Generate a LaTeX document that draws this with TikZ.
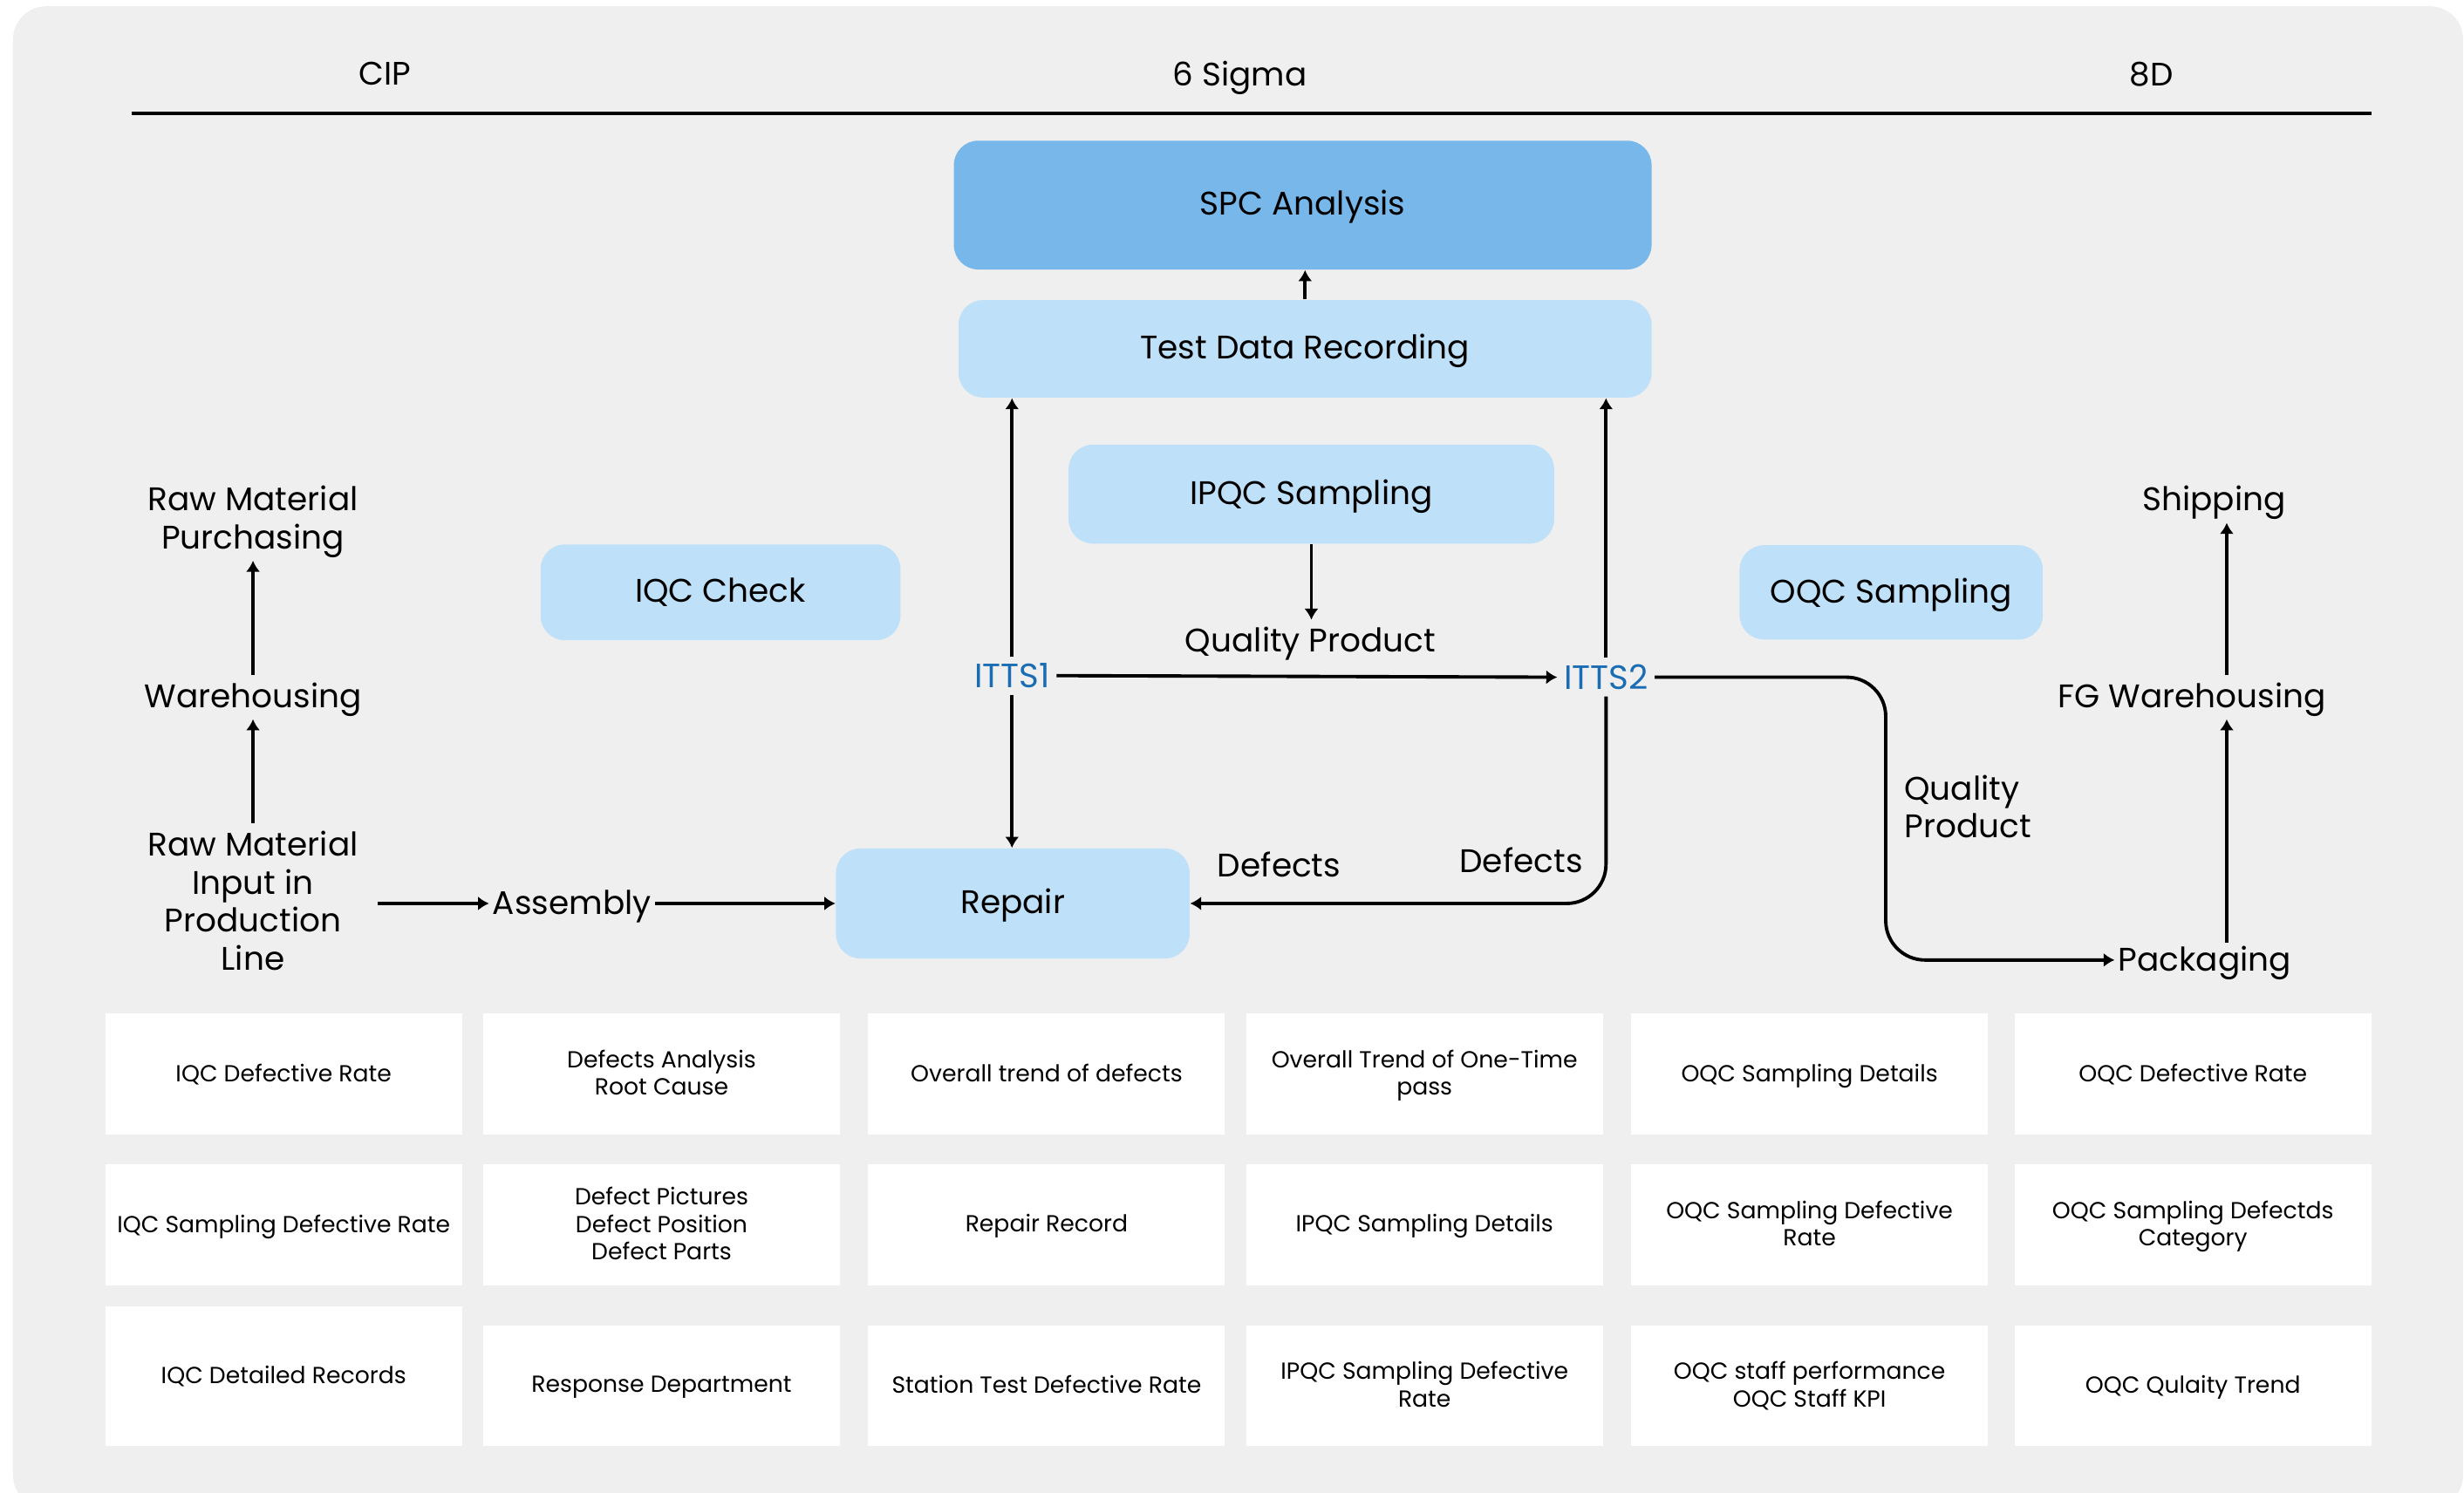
\documentclass[tikz,border=0pt]{standalone}
\usepackage{fontspec}
\setmainfont{Poppins}
\usetikzlibrary{arrows.meta,positioning}

\definecolor{panelgray}{HTML}{EFEFEF}
\definecolor{spcblue}{HTML}{78B7E9}
\definecolor{paleblue}{HTML}{BEE0F8}
\definecolor{ittsblue}{HTML}{1A6DB3}

\tikzset{
  px/.style 2 args={minimum width={#1*0.018cm}, minimum height={#2*0.018cm}},
  procbox/.style={fill=paleblue, draw=none, rounded corners=0.28cm, inner sep=0pt,
    text depth=1.4pt, font=\fontsize{10.65}{12.4}\selectfont},
  label/.style={inner sep=2.3pt, align=center, text depth=0.8pt,
    font=\fontsize{10.65}{12.4}\selectfont},
  itts/.style={inner sep=2pt, text=ittsblue, font=\fontsize{11}{12.4}\selectfont},
  header/.style={inner sep=2pt, text depth=0pt, font=\fontsize{10.6}{12.4}\selectfont},
  cell/.style={fill=white, draw=none, inner sep=0pt, align=center, text depth=0.9pt,
    minimum width={227*0.018cm}, minimum height={77*0.018cm},
    font=\fontsize{7.58}{9.0}\selectfont},
  flow/.style={line width=1.1pt, -{Latex[length=3.6pt,width=4.6pt]}},
}

\begin{document}
\begin{tikzpicture}[x=0.018cm, y=-0.018cm]
  \useasboundingbox (0,0) rectangle (1568,950.2);
  \begin{scope}
    \clip (0,0) rectangle (1568,950.2);
    \fill[white] (0,0) rectangle (1568,950.2);
    \fill[panelgray, rounded corners=0.38cm] (8.3,4) rectangle (1567.4,960);
  \end{scope}

  % column headings and rule
  \node[header] (hcip) at (245,47) {CIP};
  \node[header] (hsig) at (789,47) {6 Sigma};
  \node[header] (h8d) at (1369,47) {8D};
  \draw[line width=1.2pt] (84,72) -- (1509,72);

  % process boxes
  \node[procbox, fill=spcblue, px={444}{82}] (spc) at (829,130.5) {SPC Analysis};
  \node[procbox, px={441}{62}] (tdr) at (830.5,222) {Test Data Recording};
  \node[procbox, px={309}{63}] (ipqc) at (834.5,314.5) {IPQC Sampling};
  \node[procbox, px={229}{61}] (iqc) at (458.5,377) {IQC Check};
  \node[procbox, px={193}{60}] (oqc) at (1203.5,377) {OQC Sampling};
  \node[procbox, px={225}{70}] (repair) at (644.5,575) {Repair};

  % free-standing labels
  \node[label] (rmp) at (161,330) {Raw Material\\Purchasing};
  \node[label] (wh) at (161,443) {Warehousing};
  \node[label] (rmi) at (161,574) {Raw Material\\Input in\\Production\\Line};
  \node[label, inner sep=1pt] (asm) at (364,575) {Assembly};
  \node[label] (qp1) at (834,408) {Quality Product};
  \node[itts] (itts1) at (644,430) {ITTS1};
  \node[itts] (itts2) at (1022,431) {ITTS2};
  \node[label] (def1) at (814,551) {Defects};
  \node[label] (def2) at (968,548) {Defects};
  \node[label, align=left, anchor=west] (qp2) at (1207,514) {Quality\\Product};
  \node[label, inner sep=1pt] (pkg) at (1403,611) {Packaging};
  \node[label] (fgw) at (1395,443) {FG Warehousing};
  \node[label] (shp) at (1409,318) {Shipping};

  \coordinate (fgx) at (1417,0);
  \coordinate (qbend) at (1200,431);

  % connectors
  \draw[flow] (tdr.north) -- (tdr.north |- spc.south);
  \draw[flow] (itts1.north) -- (itts1.north |- tdr.south);
  \draw[flow] (itts2.north) -- (itts2.north |- tdr.south);
  \draw[flow] (ipqc.south) -- (ipqc.south |- qp1.north);
  \draw[flow] (itts1.east) -- (itts2.west);
  \draw[flow] (itts1.south) -- (itts1.south |- repair.north);
  \draw[flow, rounded corners=0.45cm] (itts2.south) |- (repair.east);
  \draw[flow, rounded corners=0.45cm] (itts2.east) -- (qbend) |- (pkg.west);
  \draw[flow, shorten >=0.6pt] (pkg.north -| fgx) -- (fgw.south -| fgx);
  \draw[flow, shorten >=0.6pt] (fgw.north -| fgx) -- (shp.south -| fgx);
  \draw[flow, shorten >=0.6pt] (rmi.north) -- (wh.south);
  \draw[flow, shorten >=0.6pt] (wh.north) -- (rmp.south);
  \draw[flow, shorten <=0.14cm] (asm.west -| rmi.east) -- (asm.west);
  \draw[flow] (asm.east) -- (repair.west);

  % metrics grid
  \node[cell] (c11) at (180.5,683.5) {IQC Defective Rate};
  \node[cell] (c12) at (421,683.5) {Defects Analysis\\Root Cause};
  \node[cell] (c13) at (666,683.5) {Overall trend of defects};
  \node[cell] (c14) at (906.5,683.5) {Overall Trend of One-Time\\pass};
  \node[cell] (c15) at (1151.5,683.5) {OQC Sampling Details};
  \node[cell] (c16) at (1395.5,683.5) {OQC Defective Rate};

  \node[cell] (c21) at (180.5,779.5) {IQC Sampling Defective Rate};
  \node[cell] (c22) at (421,779.5) {Defect Pictures\\Defect Position\\Defect Parts};
  \node[cell] (c23) at (666,779.5) {Repair Record};
  \node[cell] (c24) at (906.5,779.5) {IPQC Sampling Details};
  \node[cell] (c25) at (1151.5,779.5) {OQC Sampling Defective\\Rate};
  \node[cell] (c26) at (1395.5,779.5) {OQC Sampling Defectds\\Category};

  \node[cell, minimum height={89*0.018cm}] (c31) at (180.5,876) {IQC Detailed Records};
  \node[cell] (c32) at (421,882) {Response Department};
  \node[cell] (c33) at (666,882) {Station Test Defective Rate};
  \node[cell] (c34) at (906.5,882) {IPQC Sampling Defective\\Rate};
  \node[cell] (c35) at (1151.5,882) {OQC staff performance\\OQC Staff KPI};
  \node[cell] (c36) at (1395.5,882) {OQC Qulaity Trend};
\end{tikzpicture}
\end{document}
